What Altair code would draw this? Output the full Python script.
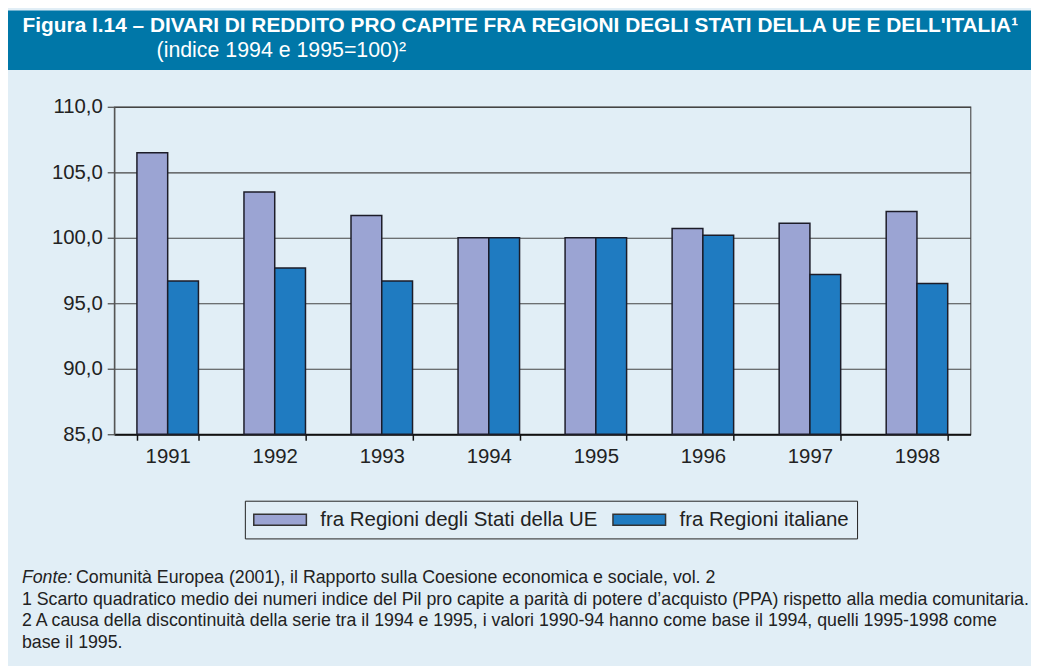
import altair as alt
import pandas as pd

# ---------------- data ----------------
years = ["1991", "1992", "1993", "1994", "1995", "1996", "1997", "1998"]
ue_values = [106.5, 103.5, 101.7, 100.0, 100.0, 100.7, 101.1, 102.0]
ita_values = [96.7, 97.7, 96.7, 100.0, 100.0, 100.2, 97.2, 96.5]
series = ["fra Regioni degli Stati della UE", "fra Regioni italiane"]
series_colors = ["#9BA4D3", "#1F7BC1"]
y_ticks = [85, 90, 95, 100, 105, 110]

title_text = ["Figura I.14 – DIVARI DI REDDITO PRO CAPITE FRA REGIONI DEGLI STATI DELLA UE E DELL'ITALIA¹"]
subtitle_text = ["(indice 1994 e 1995=100)²"]
source_label = ["Fonte:"]
source_text = ["Comunità Europea (2001), il Rapporto sulla Coesione economica e sociale, vol. 2"]
notes = [
    "1 Scarto quadratico medio dei numeri indice del Pil pro capite a parità di potere d’acquisto (PPA) rispetto alla media comunitaria.",
    "2 A causa della discontinuità della serie tra il 1994 e 1995, i valori 1990-94 hanno come base il 1994, quelli 1995-1998 come",
    "base il 1995.",
]

rows = []
for y, u, i in zip(years, ue_values, ita_values):
    rows.append({"anno": y, "serie": series[0], "valore": u})
    rows.append({"anno": y, "serie": series[1], "valore": i})
df = pd.DataFrame(rows)

FONT = "Liberation Sans"
PW, PH = 863, 330
PAD_L, PAD_T = 107, 97
TOTAL_W, TOTAL_H = 1031, 658
NOTE_SIZE = 17.9

bars = alt.Chart(df).mark_bar(stroke="#1c1c28", strokeWidth=1.5).encode(
    x=alt.X("anno:N", sort=years,
            scale=alt.Scale(paddingInner=0.4253, paddingOuter=0.21265),
            axis=alt.Axis(labelAngle=0, tickBand="extent", domainColor="#111",
                          domainWidth=2, tickColor="#111", tickSize=6, tickWidth=1.5,
                          labelFont=FONT, labelFontSize=20.5, labelPadding=6,
                          labelColor="#222", title=None, grid=False)),
    xOffset=alt.XOffset("serie:N", sort=series,
                        scale=alt.Scale(paddingInner=0, paddingOuter=0)),
    y=alt.Y("valore:Q",
            scale=alt.Scale(domain=[85, 110], nice=False, zero=False),
            axis=alt.Axis(values=y_ticks,
                          labelExpr="replace(format(datum.value, '.1f'), '.', ',')",
                          grid=True, gridColor="#444", gridWidth=1.2,
                          domainColor="#555", domainWidth=1.5,
                          tickColor="#555", tickSize=7, tickWidth=1.3,
                          labelFont=FONT, labelFontSize=20.5, labelColor="#222",
                          labelPadding=5, title=None)),
    y2=alt.datum(85),
    color=alt.Color("serie:N", sort=series,
                    scale=alt.Scale(domain=series, range=series_colors),
                    legend=alt.Legend(orient="none", legendX=131.7, legendY=397,
                                      direction="horizontal", title=None,
                                      strokeColor="#222", padding=8,
                                      labelFont=FONT, labelFontSize=20.6,
                                      labelColor="#222", labelLimit=500,
                                      labelOffset=46, columnPadding=12,
                                      symbolType="M-1,-0.55L4.3,-0.55L4.3,0.55L-1,0.55Z",
                                      symbolSize=400, symbolStrokeColor="#333",
                                      symbolStrokeWidth=1.5, symbolOpacity=1)),
)

one = pd.DataFrame({"k": [0]})

band = alt.Chart(one).mark_rect(color="#0077A8").encode(
    x=alt.value(-PAD_L), x2=alt.value(TOTAL_W - PAD_L),
    y=alt.value(-PAD_T), y2=alt.value(-PAD_T + 60),
)

title = alt.Chart(pd.DataFrame({"t": title_text})).mark_text(
    align="left", baseline="alphabetic", font=FONT, fontWeight="bold",
    fontSize=21, color="white").encode(
    x=alt.value(-92.3), y=alt.value(-75), text="t:N")

subtitle = alt.Chart(pd.DataFrame({"t": subtitle_text})).mark_text(
    align="left", baseline="alphabetic", font=FONT, fontSize=21.5,
    color="white").encode(
    x=alt.value(42.7), y=alt.value(-50.5), text="t:N")

src_lab = alt.Chart(pd.DataFrame({"t": source_label})).mark_text(
    align="left", baseline="alphabetic", font=FONT, fontSize=NOTE_SIZE,
    fontStyle="italic", color="#222").encode(
    x=alt.value(-93), y=alt.value(480), text="t:N")

src_txt = alt.Chart(pd.DataFrame({"t": source_text})).mark_text(
    align="left", baseline="alphabetic", font=FONT, fontSize=NOTE_SIZE,
    color="#222").encode(
    x=alt.value(-38.5), y=alt.value(480), text="t:N")

notes_txt = alt.Chart(one).mark_text(
    align="left", baseline="alphabetic", font=FONT, fontSize=NOTE_SIZE,
    lineHeight=21.7, color="#222").encode(
    x=alt.value(-93), y=alt.value(502), text=alt.value(notes))

chart = alt.layer(band, bars, title, subtitle, src_lab, src_txt, notes_txt).properties(
    width=PW, height=PH,
    padding={"left": PAD_L, "top": PAD_T,
             "right": TOTAL_W - PAD_L - PW, "bottom": TOTAL_H - PAD_T - PH},
    autosize=alt.AutoSizeParams(type="none"),
    background="#E1EEF6",
).configure_view(stroke="#555", strokeWidth=1.2)

chart.save("out.html", embed_options={"renderer": "svg", "actions": False})
